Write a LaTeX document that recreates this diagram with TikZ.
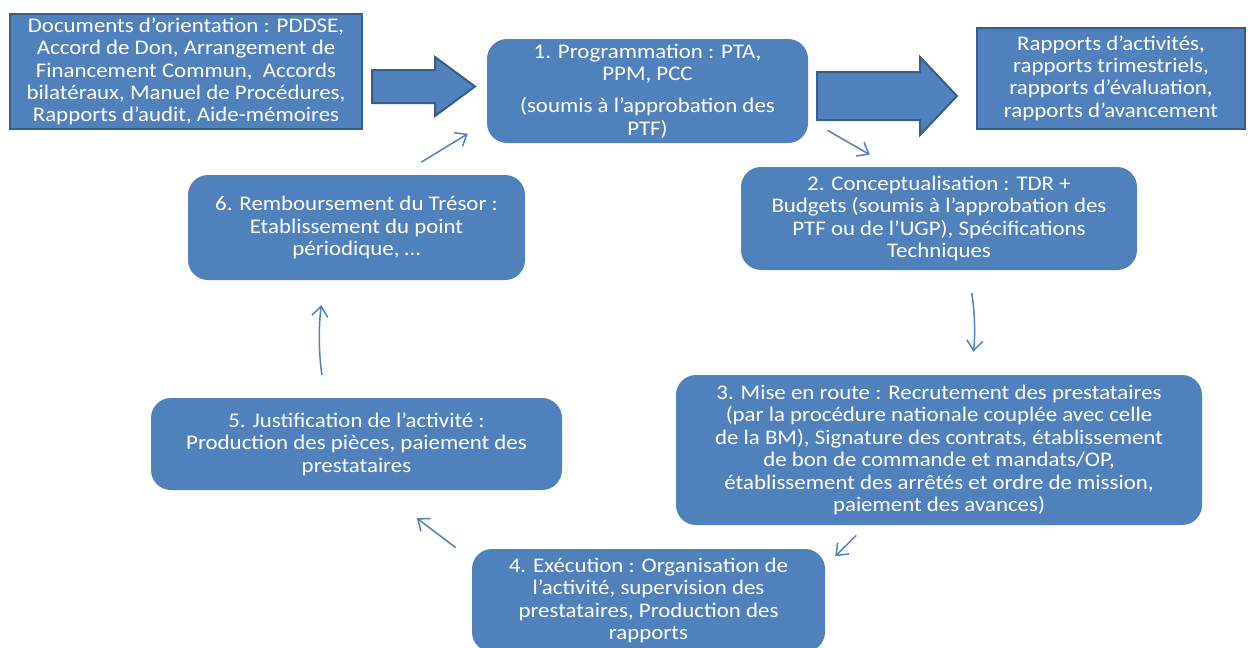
\documentclass[tikz,border=0pt]{standalone}
\usepackage{fontspec}
\setmainfont{Carlito}[FakeStretch=1.1]
\usetikzlibrary{arrows.meta}
\definecolor{boxblue}{HTML}{4F81BD}
\definecolor{boxedge}{HTML}{385D8A}
\begin{document}
\begin{tikzpicture}[x=0.5pt, y=-0.5pt,
					docbox/.style = {rectangle, fill=boxblue, draw=boxedge, line width=1pt, text=white, align=center, inner sep=0pt, font=\fontsize{10.4}{11.2}\selectfont},
					stepbox/.style = {rectangle, rounded corners=10pt, fill=boxblue, text=white, align=center, inner sep=0pt, font=\fontsize{10.4}{11.2}\selectfont},
					bigarrow/.style = {fill=boxblue, draw=boxedge, line width=1pt},
					cycarrow/.style = {draw=boxblue, line width=0.75pt, -{Straight Barb[length=5pt, width=8pt]}}
				]
				\clip (0,0) rectangle (1248,648);
				\fill[white] (0,0) rectangle (1248,648);
				% inputs and outputs
				\node[docbox, minimum width=176pt, minimum height=57.5pt] (docs) at (186,71.5) {Documents d’orientation : PDDSE,\\ Accord de Don, Arrangement de\\ Financement Commun,~ Accords\\ bilatéraux, Manuel de Procédures,\\ Rapports d’audit, Aide-mémoires};
				\node[docbox, minimum width=134pt, minimum height=50.5pt] (reports) at (1111,78) {Rapports d’activités,\\ rapports trimestriels,\\ rapports d’évaluation,\\ rapports d’avancement};
				% cycle steps
				\node[stepbox, minimum width=160.5pt, minimum height=52pt] (prog) at (647.5,91) {1. Programmation : PTA,\\ PPM, PCC\\[5pt] (soumis à l’approbation des\\ PTF)};
				\node[stepbox, minimum width=198pt, minimum height=51.5pt] (concept) at (939,218.5) {2. Conceptualisation : TDR +\\ Budgets (soumis à l’approbation des\\ PTF ou de l’UGP), Spécifications\\ Techniques};
				\node[stepbox, minimum width=263pt, minimum height=75pt] (launch) at (939,450) {3. Mise en route : Recrutement des prestataires\\ (par la procédure nationale couplée avec celle\\ de la BM), Signature des contrats, établissement\\ de bon de commande et mandats/OP,\\ établissement des arrêtés et ordre de mission,\\ paiement des avances)};
				\node[stepbox, minimum width=176.5pt, minimum height=51.5pt] (exec) at (648.5,600.5) {4. Exécution : Organisation de\\ l’activité, supervision des\\ prestataires, Production des\\ rapports};
				\node[stepbox, minimum width=205.5pt, minimum height=46pt] (justif) at (356.5,444) {5. Justification de l’activité :\\ Production des pièces, paiement des\\ prestataires};
				\node[stepbox, minimum width=168.5pt, minimum height=52.5pt] (refund) at (356.5,227.5) {6. Remboursement du Trésor :\\ Etablissement du point\\ périodique, …};
				% block arrows
				\draw[bigarrow] (372,70) -- (435,70) -- (435,57) -- (475,86.5) -- (435,116) -- (435,103) -- (372,103) -- cycle;
				\draw[bigarrow] (817,72) -- (920,72) -- (920,57) -- (957,96) -- (920,135) -- (920,120) -- (817,120) -- cycle;
				% cycle arrows
				\draw[cycarrow, shorten <=12pt, shorten >=11pt] (refund.50) -- (prog.191);
				\draw[cycarrow, shorten <=11pt, shorten >=12pt] (prog.350) -- (concept.133);
				\draw[cycarrow, shorten <=11.5pt, shorten >=11.5pt] (concept.299) to[bend left=8] (launch.67);
				\draw[cycarrow, shorten <=7pt, shorten >=7pt] (launch.226) -- (exec.11);
				\draw[cycarrow, shorten <=10pt, shorten >=23pt] (exec.167) -- (justif.297);
				\draw[cycarrow, shorten <=11.5pt, shorten >=12.5pt] (justif.124) to[bend left=8] (refund.239);
			\end{tikzpicture}
\end{document}
